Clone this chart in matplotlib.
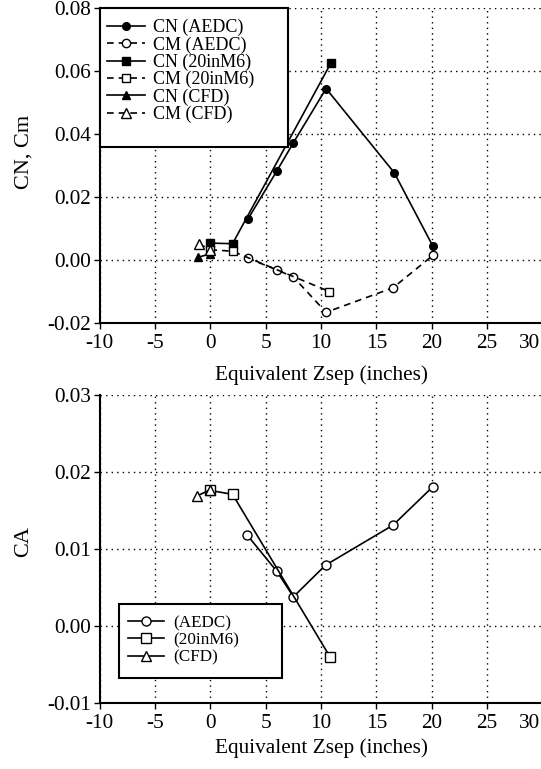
import matplotlib
matplotlib.use("Agg")
import matplotlib.pyplot as plt
from matplotlib.patches import Rectangle
from matplotlib.transforms import ScaledTranslation

plt.rcParams['font.family'] = ['Liberation Serif', 'DejaVu Serif']

# ---- Top panel data ----
x_aedc = [3.37, 6.0, 7.5, 10.45, 16.6, 20.1]
cn_aedc = [0.0128, 0.0282, 0.0372, 0.0544, 0.0277, 0.0043]
x_aedc_cm = [3.37, 6.0, 7.5, 10.45, 16.5, 20.1]
cm_aedc = [0.0005, -0.0032, -0.0055, -0.0167, -0.0089, 0.0014]
x_20_cn = [0.0, 2.0, 10.9]
cn_20 = [0.0053, 0.0051, 0.0626]
x_20_cm = [0.0, 2.0, 10.75]
cm_20 = [0.0032, 0.0027, -0.0101]
x_cfd_cn = [-1.1, 0.0]
cn_cfd = [0.0008, 0.0019]
x_cfd_cm = [-1.05, 0.0]
cm_cfd = [0.0051, 0.0032]

# ---- Bottom panel data ----
x_aedc_ca = [3.33, 6.0, 7.5, 10.4, 16.5, 20.1]
ca_aedc = [0.0118, 0.0071, 0.0038, 0.0079, 0.0131, 0.0181]
x_20_ca = [0.0, 2.0, 10.8]
ca_20 = [0.0176, 0.0171, -0.0040]
x_cfd_ca = [-1.2, 0.0]
ca_cfd = [0.0169, 0.0177]

xticks = [-10, -5, 0, 5, 10, 15, 20, 25, 30]
yticks_top = [-0.02, 0.00, 0.02, 0.04, 0.06, 0.08]
yticks_bot = [-0.01, 0.00, 0.01, 0.02, 0.03]

W, H = 541, 769
fig = plt.figure(figsize=(W / 100, H / 100), dpi=100)

def px_axes(left, top, right, bottom):
    return [left / W, 1 - bottom / H, (right - left) / W, (bottom - top) / H]

ax1 = fig.add_axes(px_axes(99.7, 8, 542.5, 322.7))
ax2 = fig.add_axes(px_axes(99.7, 395, 542.5, 703))

dash = (0, (4, 3))
grid_ls = (0, (1, 3))
FS = 15.3

def style(ax, yticks, ylabel, xlabelpad, ylabel_y):
    ax.set_xlim(-10, 30)
    ax.set_ylim(yticks[0], yticks[-1])
    ax.set_xticks(xticks)
    ax.set_yticks(yticks)
    ax.set_xticklabels([str(t) for t in xticks])
    ax.set_yticklabels(['%.2f' % t for t in yticks])
    ax.grid(True, color='black', linestyle=grid_ls, linewidth=1.0)
    ax.spines['top'].set_visible(False)
    ax.spines['right'].set_visible(False)
    ax.spines['left'].set_linewidth(1.5)
    ax.spines['bottom'].set_linewidth(1.5)
    ax.tick_params(direction='out', length=4, width=1, labelsize=FS)
    ax.tick_params(axis='x', pad=4)
    ax.tick_params(axis='y', pad=2)
    ax.set_xlabel('Equivalent Zsep (inches)', fontsize=FS, labelpad=xlabelpad)
    ax.set_ylabel(ylabel, fontsize=FS + 0.7, labelpad=10, y=ylabel_y)
    ax.set_axisbelow(True)
    # last x tick label sits at the figure edge; nudge it left like the reference
    lab = ax.get_xticklabels()[-1]
    lab.set_transform(lab.get_transform() + ScaledTranslation(-13 / 100, 0, fig.dpi_scale_trans))

style(ax1, yticks_top, 'CN, Cm', 9, 0.542)
style(ax2, yticks_bot, 'CA', 4, 0.523)

k = dict(color='black', lw=1.2)
ax1.plot(x_aedc, cn_aedc, marker='o', ms=5.5, mfc='black', mec='black', ls='-', label='CN (AEDC)', **k)
ax1.plot(x_aedc_cm, cm_aedc, marker='o', ms=6, mfc='white', mec='black', ls=dash, label='CM (AEDC)', **k)
ax1.plot(x_20_cn, cn_20, marker='s', ms=5.5, mfc='black', mec='black', ls='-', label='CN (20inM6)', **k)
ax1.plot(x_20_cm, cm_20, marker='s', ms=6, mfc='white', mec='black', ls=dash, label='CM (20inM6)', **k)
ax1.plot(x_cfd_cn, cn_cfd, marker='^', ms=5.5, mfc='black', mec='black', ls='-', label='CN (CFD)', **k)
ax1.plot(x_cfd_cm, cm_cfd, marker='^', ms=6.5, mfc='white', mec='black', ls=dash, label='CM (CFD)', **k)

def legend_box(ax, x0, y0, x1, y1):
    r = Rectangle((x0, y0), x1 - x0, y1 - y0, transform=ax.transAxes,
                  facecolor='white', edgecolor='black', lw=1.5, zorder=4, clip_on=False)
    ax.add_patch(r)

# frame of top legend (axes fractions)
legend_box(ax1, 0.0, 0.5593, 0.4253, 1.0)
leg1 = ax1.legend(loc='upper left', bbox_to_anchor=(0.0165, 0.965),
                  fontsize=13, frameon=False, handlelength=2.1, handletextpad=0.45,
                  labelspacing=0.0, borderpad=0.0, borderaxespad=0.0)
leg1.set_zorder(5)

ax2.plot(x_aedc_ca, ca_aedc, marker='o', ms=6.5, mfc='white', mec='black', ls='-', label='(AEDC)', **k)
ax2.plot(x_20_ca, ca_20, marker='s', ms=6.5, mfc='white', mec='black', ls='-', label='(20inM6)', **k)
ax2.plot(x_cfd_ca, ca_cfd, marker='^', ms=7, mfc='white', mec='black', ls='-', label='(CFD)', **k)

legend_box(ax2, 0.0436, 0.0812, 0.4117, 0.3214)
leg2 = ax2.legend(loc='upper left', bbox_to_anchor=(0.0639, 0.286),
                  fontsize=12.3, frameon=False, handlelength=2.1, handletextpad=0.55,
                  labelspacing=0.08, borderpad=0.0, borderaxespad=0.0)
leg2.set_zorder(5)

fig.savefig('out.png', dpi=100)
